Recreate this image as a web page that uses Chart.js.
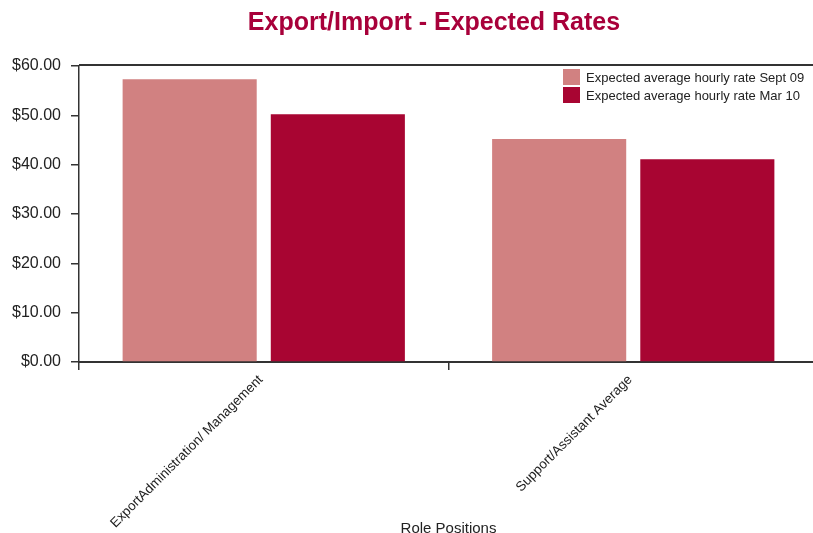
<!DOCTYPE html>
<html>
<head>
<meta charset="utf-8">
<script src="https://cdn.jsdelivr.net/npm/chart.js@4.4.0/dist/chart.umd.min.js"></script>
<style>
    html, body { margin: 0; padding: 0; background: #fff; overflow: hidden; }
    #wrap { width: 818px; height: 533px; }
</style>
</head>
<body>
<div id="wrap"><canvas id="canvas" width="818" height="533"></canvas></div>
<script>
var categories = ['ExportAdministration/ Management', 'Support/Assistant Average'];
var seriesNames = ['Expected average hourly rate Sept 09', 'Expected average hourly rate Mar 10'];
var sept09 = [57.3, 45.2];
var mar10 = [50.2, 41.1];
var yTicks = [0, 10, 20, 30, 40, 50, 60];

var FONT = '"Liberation Sans", Helvetica, Arial, sans-serif';
var lightRed = '#d18181';
var darkRed = '#a80532';

// title, top border line and legend drawn inside the plot
var decorPlugin = {
    id: 'decor',
    afterDraw: function (chart) {
        var ctx = chart.ctx;
        var area = chart.chartArea;
        ctx.save();
        // top border
        ctx.strokeStyle = '#333';
        ctx.lineWidth = 2;
        ctx.beginPath();
        ctx.moveTo(area.left, area.top - 1);
        ctx.lineTo(area.right, area.top - 1);
        ctx.stroke();
        // title
        ctx.fillStyle = '#a8003a';
        ctx.font = 'bold 25px ' + FONT;
        ctx.textAlign = 'center';
        ctx.textBaseline = 'middle';
        ctx.fillText('Export/Import - Expected Rates', 434, 23);
        // legend
        ctx.font = '13px ' + FONT;
        ctx.textAlign = 'left';
        chart.data.datasets.forEach(function (ds, i) {
            var y = 69 + i * 18;
            ctx.fillStyle = ds.backgroundColor;
            ctx.fillRect(563, y, 17, 16);
            ctx.fillStyle = '#222';
            ctx.fillText(ds.label, 586, y + 9);
        });
        ctx.restore();
    }
};

var ctx = document.getElementById('canvas').getContext('2d');
window.myBar = new Chart(ctx, {
    type: 'bar',
    data: {
        labels: categories,
        datasets: [{
            label: seriesNames[0],
            backgroundColor: lightRed,
            data: sept09
        }, {
            label: seriesNames[1],
            backgroundColor: darkRed,
            data: mar10
        }]
    },
    options: {
        responsive: false,
        animation: false,
        categoryPercentage: 0.802,
        barPercentage: 0.905,
        layout: { padding: { top: 66, left: 0, right: 0, bottom: 0 } },
        plugins: {
            legend: { display: false },
            title: { display: false },
            tooltip: { enabled: false }
        },
        scales: {
            x: {
                afterFit: function (scale) { scale.height = 171; },
                border: { display: true, color: '#333', width: 2 },
                grid: { display: true, drawOnChartArea: false, offset: true, color: '#333', lineWidth: 1.5, tickLength: 8 },
                ticks: {
                    color: '#222',
                    font: { family: FONT, size: 13.4 },
                    minRotation: 45,
                    maxRotation: 45,
                    padding: 2,
                    labelOffset: -3
                },
                title: {
                    display: true,
                    text: 'Role Positions',
                    color: '#222',
                    font: { family: FONT, size: 15 },
                    padding: { top: 0, bottom: -5 }
                }
            },
            y: {
                min: 0,
                max: 60,
                afterFit: function (scale) { scale.width = 79; },
                afterBuildTicks: function (scale) {
                    scale.ticks = yTicks.map(function (v) { return { value: v }; });
                },
                border: { display: true, color: '#333', width: 1.5 },
                grid: { display: true, drawOnChartArea: false, color: '#333', lineWidth: 1.5, tickLength: 8 },
                ticks: {
                    color: '#222',
                    font: { family: FONT, size: 16 },
                    padding: 10,
                    callback: function (v) { return '$' + Number(v).toFixed(2); }
                }
            }
        }
    },
    plugins: [decorPlugin]
});
</script>
</body>
</html>
